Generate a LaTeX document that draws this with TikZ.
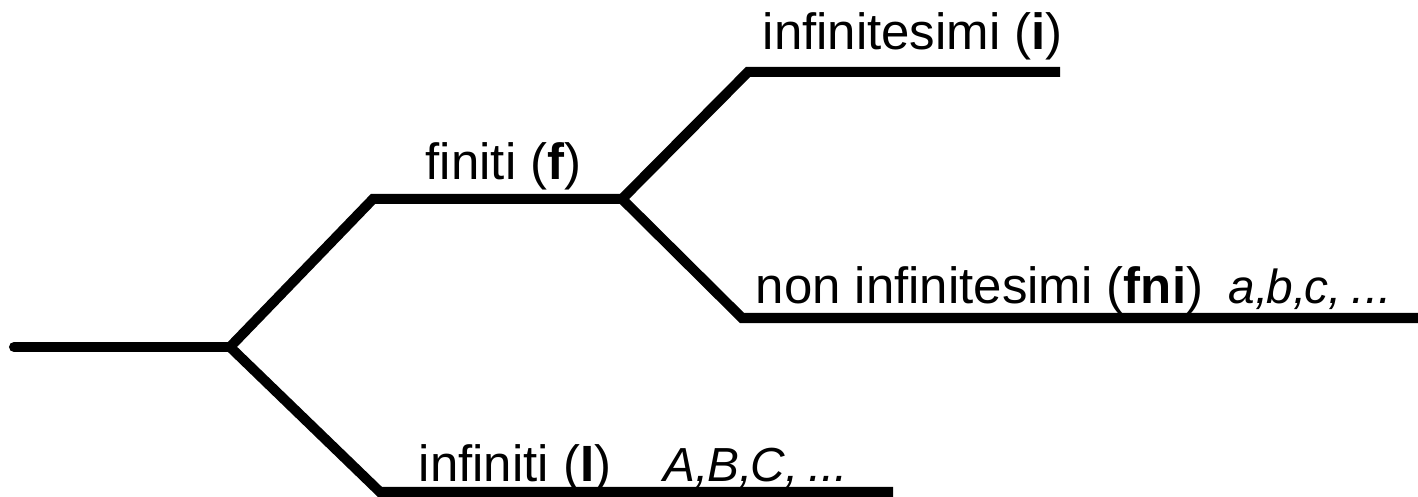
\documentclass[tikz,border=0pt]{standalone}
\usepackage{fontspec}
\setmainfont{Liberation Sans}
\begin{document}
\begin{tikzpicture}[x=1cm,y=1cm,
  branch/.style={line width=2.85pt, line join=miter},
  lbl/.style={anchor=base west, inner sep=0pt, font=\fontsize{14.5}{17}\selectfont},
  itl/.style={anchor=base west, inner sep=0pt, font=\fontsize{13.6}{16}\selectfont\itshape}]
\useasboundingbox (0,0) rectangle (14.18,4.97);
% coordinates (px/100, (497-py)/100)
\coordinate (start) at (0.14,1.50);
\coordinate (root) at (2.30,1.50);
\coordinate (fknee) at (3.73,2.98);
\coordinate (fjoin) at (6.22,2.98);
\coordinate (Iknee) at (3.80,0.05);
\coordinate (Iend) at (8.93,0.05);
\coordinate (iknee) at (7.48,4.25);
\coordinate (iend) at (10.60,4.25);
\coordinate (fnknee) at (7.42,1.79);
\coordinate (fnend) at (14.18,1.79);
\draw[branch, line cap=round] (start) -- (root);
\draw[branch] (root) -- (fknee) -- (fjoin);
\draw[branch] (root) -- (Iknee) -- (Iend);
\draw[branch] (fjoin) -- (iknee) -- (iend);
\draw[branch] (fjoin) -- (fnknee) -- (fnend);
\node[lbl] (li) at (7.62,4.47) {infinitesimi (\textbf{i})};
\node[lbl] (lf) at (4.25,3.17) {finiti (\textbf{f})};
\node[lbl] (lfni) at (7.55,1.93) {non infinitesimi (\textbf{fni})};
\node[itl] (labc) at (12.28,1.93) {a,\kern-0.5pt b,\kern-0.5pt c,\kern-1pt\ ...};
\node[lbl] (lI) at (4.18,0.15) {infiniti (\textbf{I})};
\node[itl] (lABC) at (6.63,0.15) {A,\kern-0.5pt B,\kern-0.5pt C,\kern-1pt\ ...};
\end{tikzpicture}
\end{document}
